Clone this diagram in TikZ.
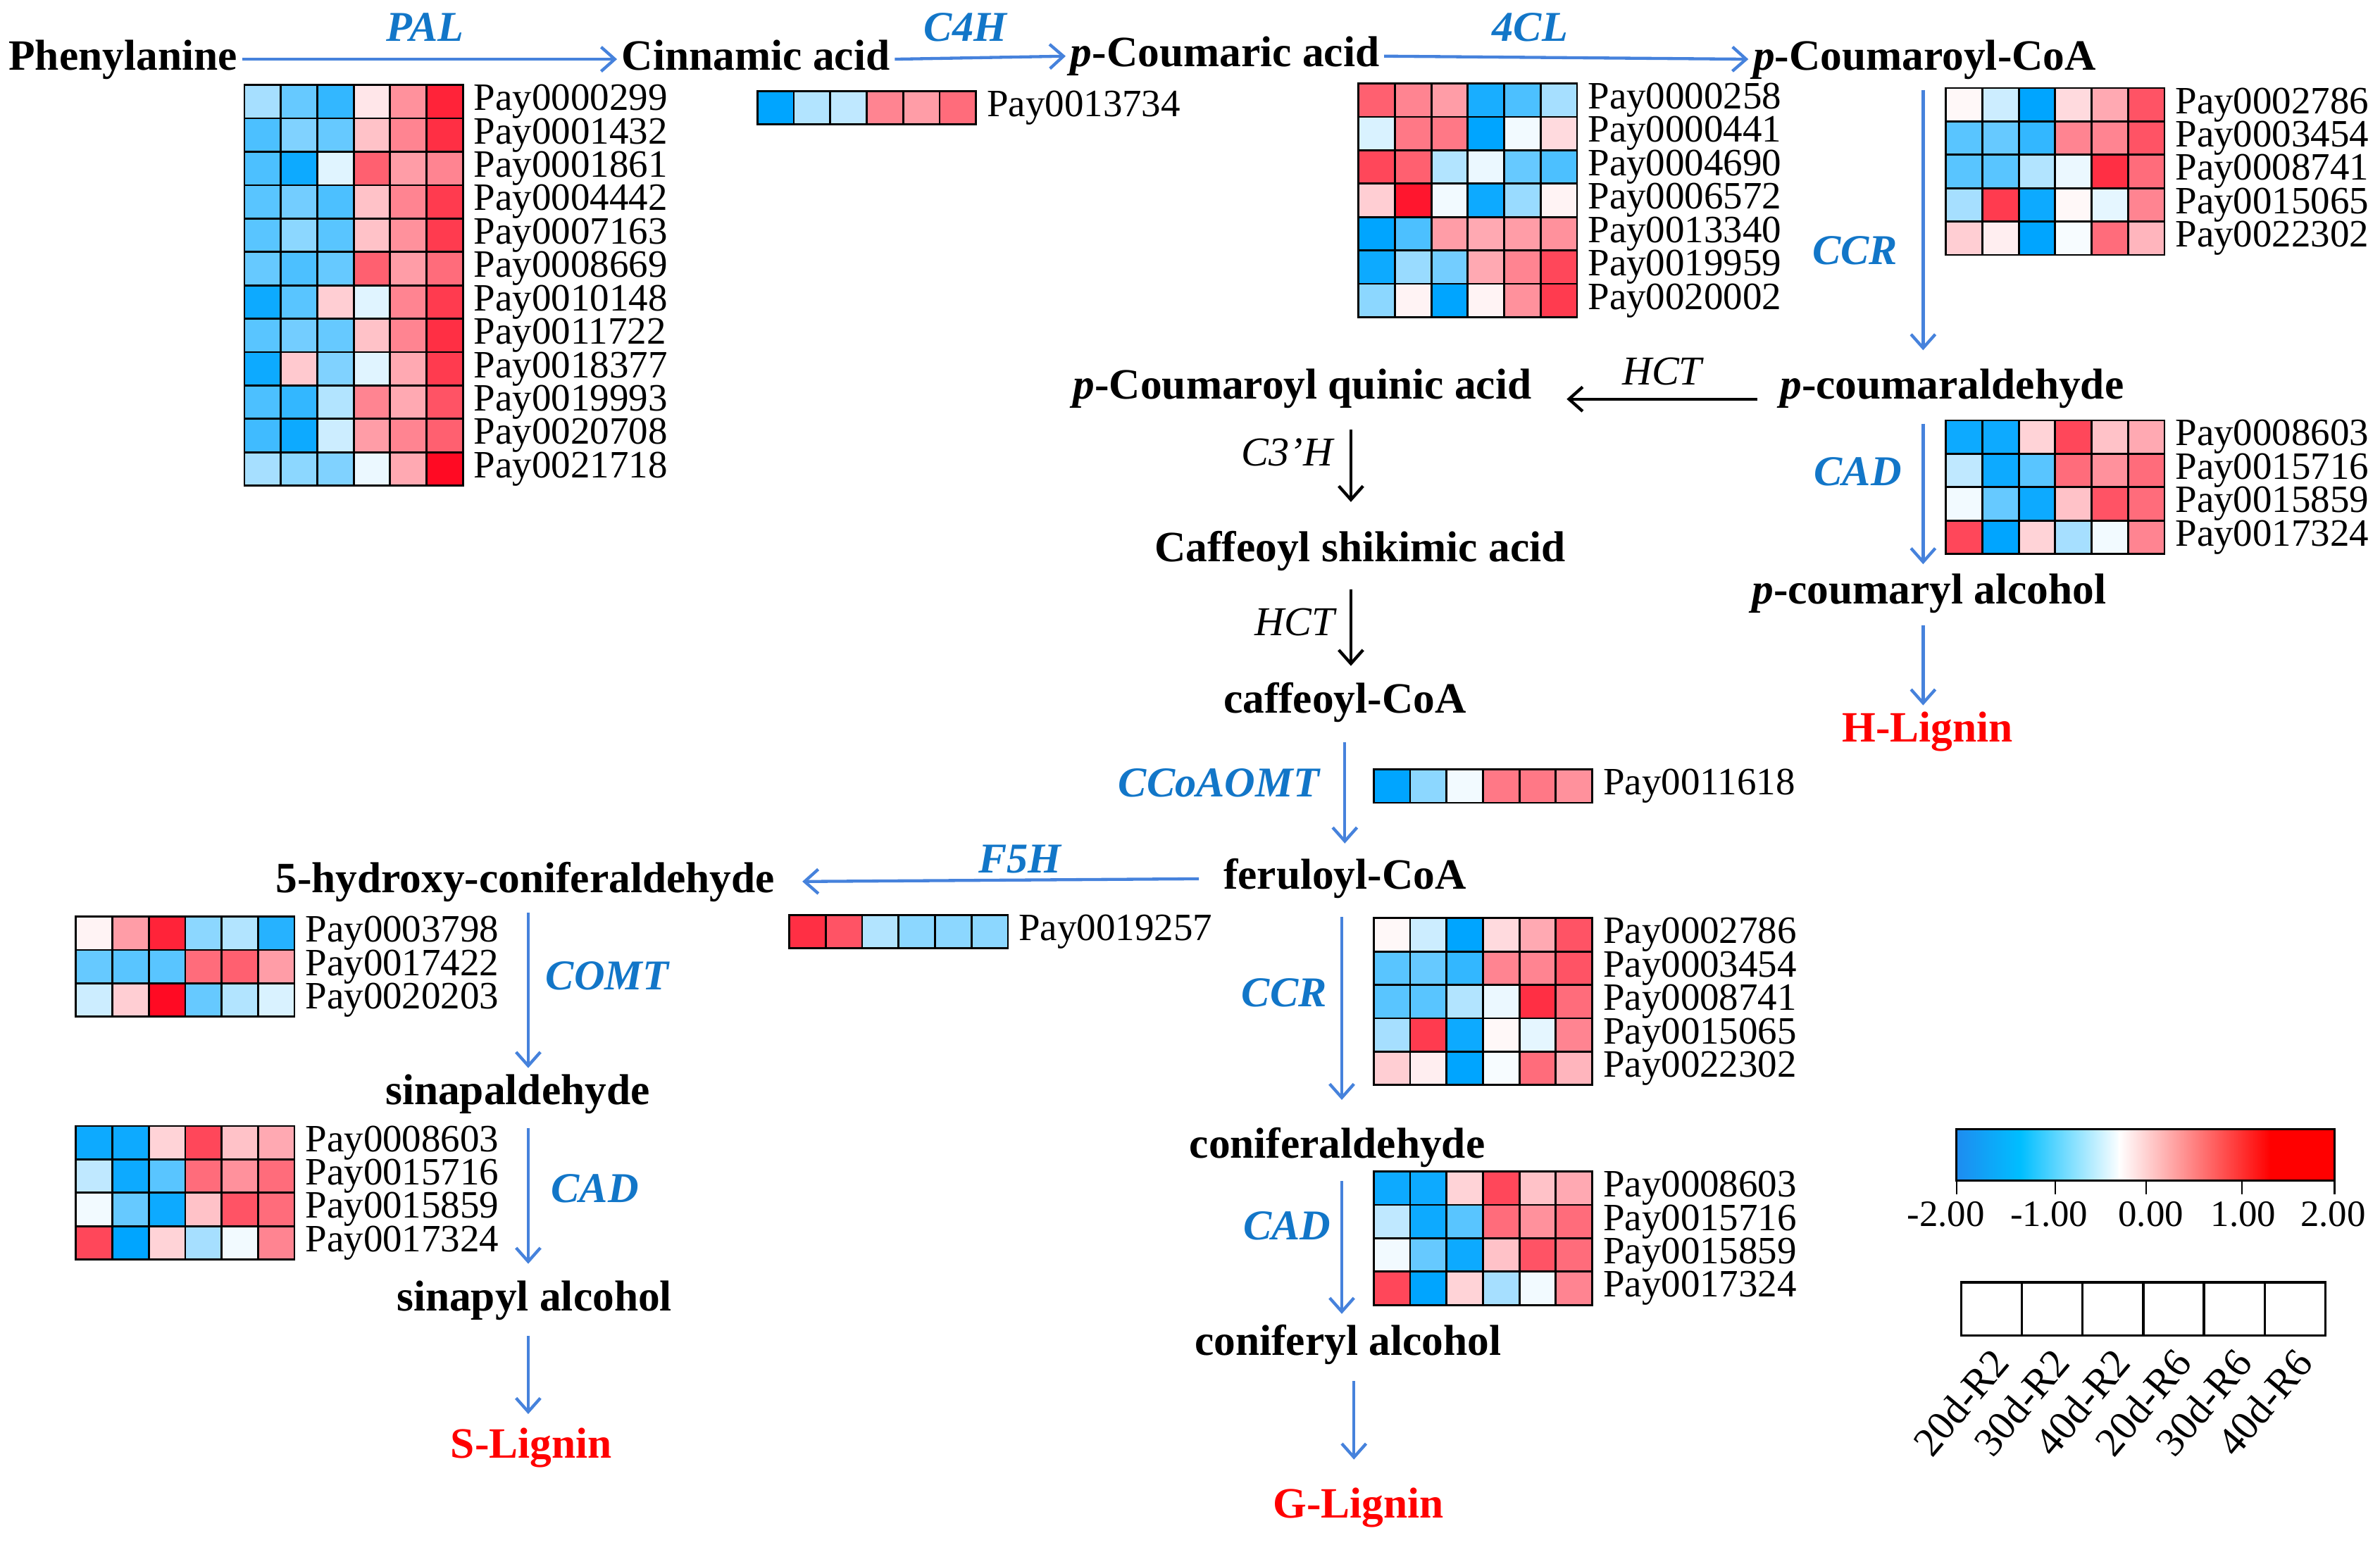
\documentclass[tikz,border=0pt]{standalone}
\usepackage{fontspec}
\setmainfont{Liberation Serif}
\usetikzlibrary{arrows.meta}
\definecolor{hb}{RGB}{0,165,255}
\definecolor{hr}{RGB}{255,10,35}
\definecolor{enz}{RGB}{18,118,200}
\definecolor{arr}{RGB}{70,130,220}
\definecolor{cbA}{RGB}{30,140,240}
\definecolor{cbB}{RGB}{0,190,255}
\definecolor{cbC}{RGB}{255,0,0}

\newcommand\cellcol[1]{\ifnum#1<0 \edef\tmpv{\the\numexpr 0-(#1)\relax}\colorlet{cc}{hb!\tmpv!white}\else\edef\tmpv{\the\numexpr#1\relax}\colorlet{cc}{hr!\tmpv!white}\fi}

\newcommand\heatmap[4]{%
  \foreach \va/\vb/\vc/\vd/\ve/\vf/\lab [count=\ri from 0] in #4 {
    \foreach \vv [count=\kk from 0] in {\va,\vb,\vc,\vd,\ve,\vf} {
      \cellcol{\vv}
      \filldraw[fill=cc, draw=black, line width=1.3pt] ({#2+\kk*24},{#3+\ri*22}) rectangle ++(24,22);
    }
    \node[genelab] (#1-\ri) at ({#2+151},{#3+\ri*22+11}) {\lab};
  }%
}

\newcommand\paldata{-35/-60/-80/10/45/90/Pay0000299,
 -70/-50/-60/25/50/85/Pay0001432,
 -70/-95/-12/65/40/50/Pay0001861,
 -65/-55/-70/25/50/80/Pay0004442,
 -65/-45/-65/25/45/80/Pay0007163,
 -60/-70/-60/65/40/60/Pay0008669,
 -95/-65/20/-12/50/80/Pay0010148,
 -65/-55/-60/25/50/85/Pay0011722,
 -95/22/-50/-12/35/80/Pay0018377,
 -70/-80/-30/50/35/70/Pay0019993,
 -75/-95/-20/40/50/65/Pay0020708,
 -35/-45/-50/-8/35/100/Pay0021718}
\newcommand\cfhdata{-100/-30/-25/50/40/60/Pay0013734}
\newcommand\fcldata{65/50/40/-90/-70/-35/Pay0000258,
 -15/55/55/-100/-5/15/Pay0000441,
 75/65/-30/-8/-60/-70/Pay0004690,
 20/95/-5/-95/-40/5/Pay0006572,
 -100/-70/40/35/40/45/Pay0013340,
 -95/-40/-55/35/50/75/Pay0019959,
 -45/5/-100/5/45/80/Pay0020002}
\newcommand\ccrdata{3/-20/-100/15/35/70/Pay0002786,
 -65/-60/-80/50/50/70/Pay0003454,
 -65/-65/-30/-8/85/60/Pay0008741,
 -35/80/-95/3/-10/50/Pay0015065,
 20/7/-100/-3/60/30/Pay0022302}
\newcommand\caddata{-95/-95/18/75/25/35/Pay0008603,
 -25/-95/-65/60/45/60/Pay0015716,
 -5/-60/-95/25/70/60/Pay0015859,
 75/-100/18/-35/-5/50/Pay0017324}
\newcommand\ccoadata{-100/-45/-5/55/55/45/Pay0011618}
\newcommand\ffhdata{85/70/-30/-45/-45/-45/Pay0019257}
\newcommand\comtdata{5/40/90/-45/-30/-85/Pay0003798,
 -60/-65/-65/60/65/40/Pay0017422,
 -20/20/100/-60/-30/-15/Pay0020203}

\begin{document}
\begin{tikzpicture}[x=1pt,y=-1pt,
  cmp/.style={font=\fontsize{28.5}{30}\selectfont\bfseries, inner sep=3pt, text height=20pt, text depth=6pt},
  lig/.style={cmp, text=red},
  enzl/.style={font=\fontsize{28}{30}\selectfont\bfseries\itshape, text=enz, inner sep=1pt},
  blk/.style={font=\fontsize{27}{30}\selectfont\itshape, inner sep=1pt},
  genelab/.style={anchor=west, inner sep=0pt, font=\fontsize{25.5}{26}\selectfont},
  ticklab/.style={inner sep=0pt, font=\fontsize{24.5}{26}\selectfont},
  leglab/.style={inner sep=0pt, anchor=east, rotate=50, font=\fontsize{27}{28}\selectfont},
  barr/.style={draw=arr, line width=2pt, -{Straight Barb[length=9pt,width=16pt]}},
  karr/.style={draw=black, line width=2pt, -{Straight Barb[length=9pt,width=16pt]}}]
\useasboundingbox (0,0) rectangle (1568,1018);

% compounds
\node[cmp] (phe) at (81,39) {Phenylanine};
\node[cmp] (cin) at (498,39) {Cinnamic acid};
\node[cmp] (pca) at (807,37) {\textit{p}-Coumaric acid};
\node[cmp] (pcoA) at (1268,39) {\textit{p}-Coumaroyl-CoA};
\node[cmp] (pcald) at (1286,256) {\textit{p}-coumaraldehyde};
\node[cmp] (pcqa) at (858,256) {\textit{p}-Coumaroyl quinic acid};
\node[cmp] (csa) at (896,363) {Caffeoyl shikimic acid};
\node[cmp] (ccoa) at (886,463) {caffeoyl-CoA};
\node[cmp] (fer) at (886,579) {feruloyl-CoA};
\node[cmp] (hca) at (346,581) {5-hydroxy-coniferaldehyde};
\node[cmp] (sinald) at (341,721) {sinapaldehyde};
\node[cmp] (sinol) at (352,857) {sinapyl alcohol};
\node[cmp] (conald) at (881,756) {coniferaldehyde};
\node[cmp] (conol) at (888,886) {coniferyl alcohol};
\node[cmp] (pcal) at (1271,391) {\textit{p}-coumaryl alcohol};
\node[lig] (hlig) at (1270,482) {H-Lignin};
\node[lig] (slig) at (350,954) {S-Lignin};
\node[lig] (glig) at (895,993) {G-Lignin};

% enzyme labels
\node[enzl] (ePAL) at (280,18) {PAL};
\node[enzl] (eC4H) at (636,18) {C4H};
\node[enzl] (e4CL) at (1008,18) {4CL};
\node[enzl] (eCCR1) at (1222,165) {CCR};
\node[enzl] (eCAD1) at (1224,311) {CAD};
\node[enzl] (eCCo) at (803,516) {CCoAOMT};
\node[enzl] (eF5H) at (672,566) {F5H};
\node[enzl] (eCOMT) at (400,643) {COMT};
\node[enzl] (eCAD2) at (392,783) {CAD};
\node[enzl] (eCCR2) at (846,654) {CCR};
\node[enzl] (eCAD3) at (848,808) {CAD};
\node[blk] (eHCT1) at (1095,245) {HCT};
\node[blk] (eC3H) at (848,298) {C3’H};
\node[blk] (eHCT2) at (853,410) {HCT};

% arrow x positions
\coordinate (xR) at (1267,0);
\coordinate (xMa) at (890,0);
\coordinate (xMb) at (886,0);
\coordinate (xMc) at (884,0);
\coordinate (xMd) at (892,0);
\coordinate (xL) at (348,0);

\draw[barr] (phe.east) -- (cin.west);
\draw[barr] (cin.east) -- (pca.west);
\draw[barr] (pca.east) -- (pcoA.west);
\draw[barr, shorten <=4pt, shorten >=9pt] (pcoA.south -| xR) -- (pcald.north -| xR);
\draw[karr, shorten <=12pt, shorten >=20pt] ([yshift=-7pt]pcald.west) -- ([yshift=-7pt]pcqa.east);
\draw[karr, shorten <=11pt, shorten >=16pt] (pcqa.south -| xMa) -- (csa.north -| xMa);
\draw[karr, shorten <=9pt, shorten >=8pt] (csa.south -| xMa) -- (ccoa.north -| xMa);
\draw[barr, shorten <=10pt, shorten >=7pt] (ccoa.south -| xMb) -- (fer.north -| xMb);
\draw[barr, shorten <=13pt, shorten >=15pt] (fer.west) -- (hca.east);
\draw[barr, shorten <=9pt, shorten >=15pt] (fer.south -| xMc) -- (conald.north -| xMc);
\draw[barr, shorten <=6pt, shorten >=4pt] (conald.south -| xMc) -- (conol.north -| xMc);
\draw[barr, shorten <=8pt, shorten >=15pt] (conol.south -| xMd) -- (glig.north -| xMd);
\draw[barr, shorten <=4pt, shorten >=1pt] (hca.south -| xL) -- (sinald.north -| xL);
\draw[barr, shorten <=6pt, shorten >=8pt] (sinald.south -| xL) -- (sinol.north -| xL);
\draw[barr, shorten <=7pt, shorten >=6pt] (sinol.south -| xL) -- (slig.north -| xL);
\draw[barr, shorten <=7pt, shorten >=3pt] (pcald.south -| xR) -- (pcal.north -| xR);
\draw[barr, shorten <=5pt, shorten >=1pt] (pcal.south -| xR) -- (hlig.north -| xR);

% heatmaps
\heatmap{pal}{161}{56}{\paldata}
\heatmap{cfh}{499}{60}{\cfhdata}
\heatmap{fcl}{895}{55}{\fcldata}
\heatmap{ccrA}{1282}{58}{\ccrdata}
\heatmap{cadA}{1282}{277}{\caddata}
\heatmap{ccoat}{905}{507}{\ccoadata}
\heatmap{ffh}{520}{603}{\ffhdata}
\heatmap{comt}{50}{604}{\comtdata}
\heatmap{cadB}{50}{742}{\caddata}
\heatmap{ccrB}{905}{605}{\ccrdata}
\heatmap{cadC}{905}{772}{\caddata}

% colour bar
\shade[left color=cbA, right color=cbB] (1289,744) rectangle (1331,778);
\shade[left color=cbB, right color=white] (1331,744) rectangle (1397,778);
\shade[left color=white, right color=cbC] (1396,744) rectangle (1496,778);
\fill[cbC] (1495.5,744) rectangle (1538,778);
\draw[line width=1.3pt] (1289,744) rectangle (1538,778);
\foreach \tx in {1289,1354,1414,1477,1538} \draw[line width=1.2pt] (\tx,778) -- (\tx,787);
\node[ticklab] (tA) at (1282,800) {-2.00};
\node[ticklab] (tB) at (1350,800) {-1.00};
\node[ticklab] (tC) at (1417,800) {0.00};
\node[ticklab] (tD) at (1478,800) {1.00};
\node[ticklab] (tE) at (1537,800) {2.00};

% sample legend
\foreach \lb [count=\ii from 0] in {20d-R2,30d-R2,40d-R2,20d-R6,30d-R6,40d-R6} {
  \draw[line width=1.6pt] ({1292+\ii*40},845) rectangle ++(40,35);
  \node[leglab] (lg\ii) at ({1318+\ii*40},893) {\lb};
}
\end{tikzpicture}
\end{document}
